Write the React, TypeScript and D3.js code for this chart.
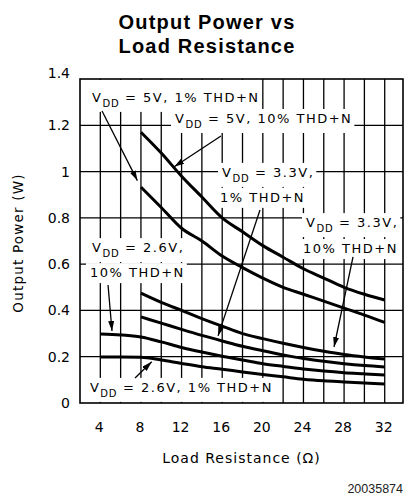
import React, { useEffect, useRef } from 'react';
import * as d3 from 'd3';

const WIDTH = 405;
const HEIGHT = 498;

// load resistance (ohm) sample points
const ohmsFrom4 = [4, 6, 8, 10, 12, 14, 16, 18, 20, 22, 24, 26, 28, 30, 32];
const ohmsFrom8 = [8, 10, 12, 14, 16, 18, 20, 22, 24, 26, 28, 30, 32];

const xTicks = [4, 8, 12, 16, 20, 24, 28, 32];
const xGrid = [4, 6, 8, 10, 12, 14, 16, 18, 20, 22, 24, 26, 28, 30, 32];
const yTicks = [0, 0.2, 0.4, 0.6, 0.8, 1, 1.2, 1.4];

// output power (W)
const p5v10 = [1.17, 1.08, 0.98, 0.89, 0.80, 0.74, 0.68, 0.63, 0.58, 0.54, 0.50, 0.47, 0.445];
const p5v1 = [0.933, 0.845, 0.755, 0.70, 0.635, 0.585, 0.54, 0.50, 0.47, 0.44, 0.41, 0.38, 0.348];
const p33v10 = [0.475, 0.435, 0.40, 0.365, 0.332, 0.30, 0.278, 0.258, 0.240, 0.224, 0.210, 0.199, 0.19];
const p33v1 = [0.372, 0.345, 0.318, 0.292, 0.268, 0.245, 0.226, 0.208, 0.192, 0.180, 0.170, 0.162, 0.156];
const p26v10 = [0.298, 0.294, 0.285, 0.264, 0.240, 0.220, 0.202, 0.186, 0.170, 0.158, 0.147, 0.138, 0.131, 0.126, 0.121];
const p26v1 = [0.199, 0.199, 0.198, 0.186, 0.171, 0.157, 0.146, 0.134, 0.123, 0.113, 0.103, 0.096, 0.091, 0.086, 0.082];

const curves = [
    { x: ohmsFrom8, y: p5v10 },
    { x: ohmsFrom8, y: p5v1 },
    { x: ohmsFrom8, y: p33v10 },
    { x: ohmsFrom8, y: p33v1 },
    { x: ohmsFrom4, y: p26v10 },
    { x: ohmsFrom4, y: p26v1 },
];

// annotation lines, anchored in data units (ohm, W); vdd = prefix with V_DD
type LabelLine = { text: string; vdd: boolean; at: [number, number] };
const labelLines: LabelLine[] = [
    { text: ' = 5V, 1% THD+N', vdd: true, at: [3.18, 1.301] },
    { text: ' = 5V, 10% THD+N', vdd: true, at: [11.35, 1.21] },
    { text: ' = 3.3V,', vdd: true, at: [15.98, 0.977] },
    { text: '1% THD+N', vdd: false, at: [15.78, 0.869] },
    { text: ' = 3.3V,', vdd: true, at: [24.25, 0.76] },
    { text: '10% THD+N', vdd: false, at: [23.96, 0.648] },
    { text: ' = 2.6V,', vdd: true, at: [3.18, 0.652] },
    { text: '10% THD+N', vdd: false, at: [2.98, 0.544] },
    { text: ' = 2.6V, 1% THD+N', vdd: true, at: [2.98, 0.048] },
];

// arrows: from label -> to curve, data units
const arrows: [number, number, number, number][] = [
    [4.17, 1.262, 7.65, 0.961],
    [15.88, 1.154, 11.28, 1.021],
    [19.72, 0.834, 15.59, 0.29],
    [28.88, 0.631, 27.01, 0.242],
    [4.76, 0.51, 5.15, 0.311],
    [7.42, 0.108, 9.06, 0.178],
];

const annoFont = '"DejaVu Sans", sans-serif';

function drawChart(root: SVGSVGElement) {
    const svg = d3.select(root);
    svg.selectChildren().remove();

    const x = d3.scaleLinear().domain([2, 33.8]).range([80, 403]);
    const y = d3.scaleLinear().domain([0, 1.4]).range([403, 79]);

    svg.append('rect').attr('width', WIDTH).attr('height', HEIGHT).attr('fill', '#fff');

    // title
    svg.append('text')
        .attr('x', 207).attr('text-anchor', 'middle')
        .attr('font-family', '"Liberation Sans", Arial, sans-serif')
        .attr('font-weight', 'bold').attr('font-size', 20)
        .attr('letter-spacing', 1.2)
        .selectAll('tspan')
        .data(['Output Power vs', 'Load Resistance'])
        .join('tspan')
        .attr('x', 207)
        .attr('y', (d, i) => 29 + i * 24)
        .text((d) => d);

    // grid
    const grid = svg.append('g').attr('stroke', '#000').attr('stroke-width', 1.3);
    grid.selectAll('.vg').data(xGrid).join('line')
        .attr('x1', (d) => x(d)).attr('x2', (d) => x(d))
        .attr('y1', y(0)).attr('y2', y(1.4));
    grid.selectAll('.hg').data(yTicks.slice(1, -1)).join('line')
        .attr('x1', x.range()[0]).attr('x2', x.range()[1])
        .attr('y1', (d) => y(d)).attr('y2', (d) => y(d));

    // annotation boxes + text
    const boxes = svg.append('g');
    const texts = svg.append('g')
        .attr('font-family', annoFont).attr('font-size', 13)
        .attr('letter-spacing', 1.5).style('white-space', 'pre');

    labelLines.forEach((l) => {
        const t = texts.append('text')
            .attr('x', x(l.at[0])).attr('y', y(l.at[1]));
        if (l.vdd) {
            t.append('tspan').text('V');
            t.append('tspan').attr('font-size', 10).attr('dy', 5).attr('letter-spacing', 0.8).text('DD');
            t.append('tspan').attr('dy', -5).text(l.text);
        } else {
            t.append('tspan').text(l.text);
        }
        const bb = (t.node() as SVGTextElement).getBBox();
        let top = bb.y - 2;
        if (top - y(1.4) < 12) top = y(1.4) + 1;
        boxes.append('rect')
            .attr('x', bb.x - 4).attr('y', top)
            .attr('width', bb.width + 6).attr('height', bb.y + bb.height + 3 - top)
            .attr('fill', '#fff');
    });

    // frame
    svg.append('rect')
        .attr('x', x.range()[0]).attr('y', y(1.4))
        .attr('width', x.range()[1] - x.range()[0]).attr('height', y(0) - y(1.4))
        .attr('fill', 'none').attr('stroke', '#000').attr('stroke-width', 1.6);

    // curves
    const lineGen = d3.line<[number, number]>()
        .x((d) => x(d[0]))
        .y((d) => y(d[1]))
        .curve(d3.curveMonotoneX);

    svg.append('g').selectAll('path')
        .data(curves)
        .join('path')
        .attr('fill', 'none').attr('stroke', '#000').attr('stroke-width', 3)
        .attr('d', (c) => lineGen(c.x.map((v, i) => [v, c.y[i]] as [number, number])));

    // arrows
    svg.append('defs').append('marker')
        .attr('id', 'ahead')
        .attr('markerUnits', 'userSpaceOnUse')
        .attr('markerWidth', 11).attr('markerHeight', 6)
        .attr('refX', 10).attr('refY', 3)
        .attr('orient', 'auto')
        .append('path').attr('d', 'M0,0 L10,3 L0,6 Z').attr('fill', '#000');

    svg.append('g').selectAll('line')
        .data(arrows)
        .join('line')
        .attr('x1', (d) => x(d[0])).attr('y1', (d) => y(d[1]))
        .attr('x2', (d) => x(d[2])).attr('y2', (d) => y(d[3]))
        .attr('stroke', '#000').attr('stroke-width', 1.3)
        .attr('marker-end', 'url(#ahead)');

    // y tick labels
    svg.append('g')
        .attr('font-family', annoFont).attr('font-size', 14)
        .selectAll('text')
        .data(yTicks)
        .join('text')
        .attr('x', 70)
        .attr('y', (d) => y(d) - (d === 1.4 ? 6 : 0))
        .attr('dy', '0.36em')
        .attr('text-anchor', 'end')
        .text((d) => d3.format('~g')(d));

    // x tick labels
    svg.append('g')
        .attr('font-family', annoFont).attr('font-size', 14)
        .selectAll('text')
        .data(xTicks)
        .join('text')
        .attr('x', (d) => x(d) - 1)
        .attr('y', 432)
        .attr('text-anchor', 'middle')
        .text((d) => String(d));

    // axis titles
    svg.append('text')
        .attr('transform', `translate(18,${(y(0) + y(1.4)) / 2 + 2}) rotate(-90)`)
        .attr('text-anchor', 'middle').attr('dy', '0.36em')
        .attr('font-family', annoFont).attr('font-size', 13.5)
        .attr('letter-spacing', 1.2)
        .text('Output Power (W)');

    svg.append('text')
        .attr('x', (x.range()[0] + x.range()[1]) / 2).attr('y', 463)
        .attr('text-anchor', 'middle')
        .attr('font-family', annoFont).attr('font-size', 14)
        .attr('letter-spacing', 1)
        .text('Load Resistance (\u03A9)');

    svg.append('text')
        .attr('x', 403).attr('y', 493)
        .attr('text-anchor', 'end')
        .attr('font-family', '"Liberation Sans", Arial, sans-serif').attr('font-size', 12.5)
        .attr('fill', '#222')
        .text('20035874');
}

export default function App() {
    const svgRef = useRef<SVGSVGElement>(null);

    useEffect(() => {
        svgRef.current && drawChart(svgRef.current);
    }, []);

    return (
        <svg ref={svgRef} width={WIDTH} height={HEIGHT}
            style={{ position: 'absolute', left: 0, top: 0, display: 'block' }}
        />
    );
}
